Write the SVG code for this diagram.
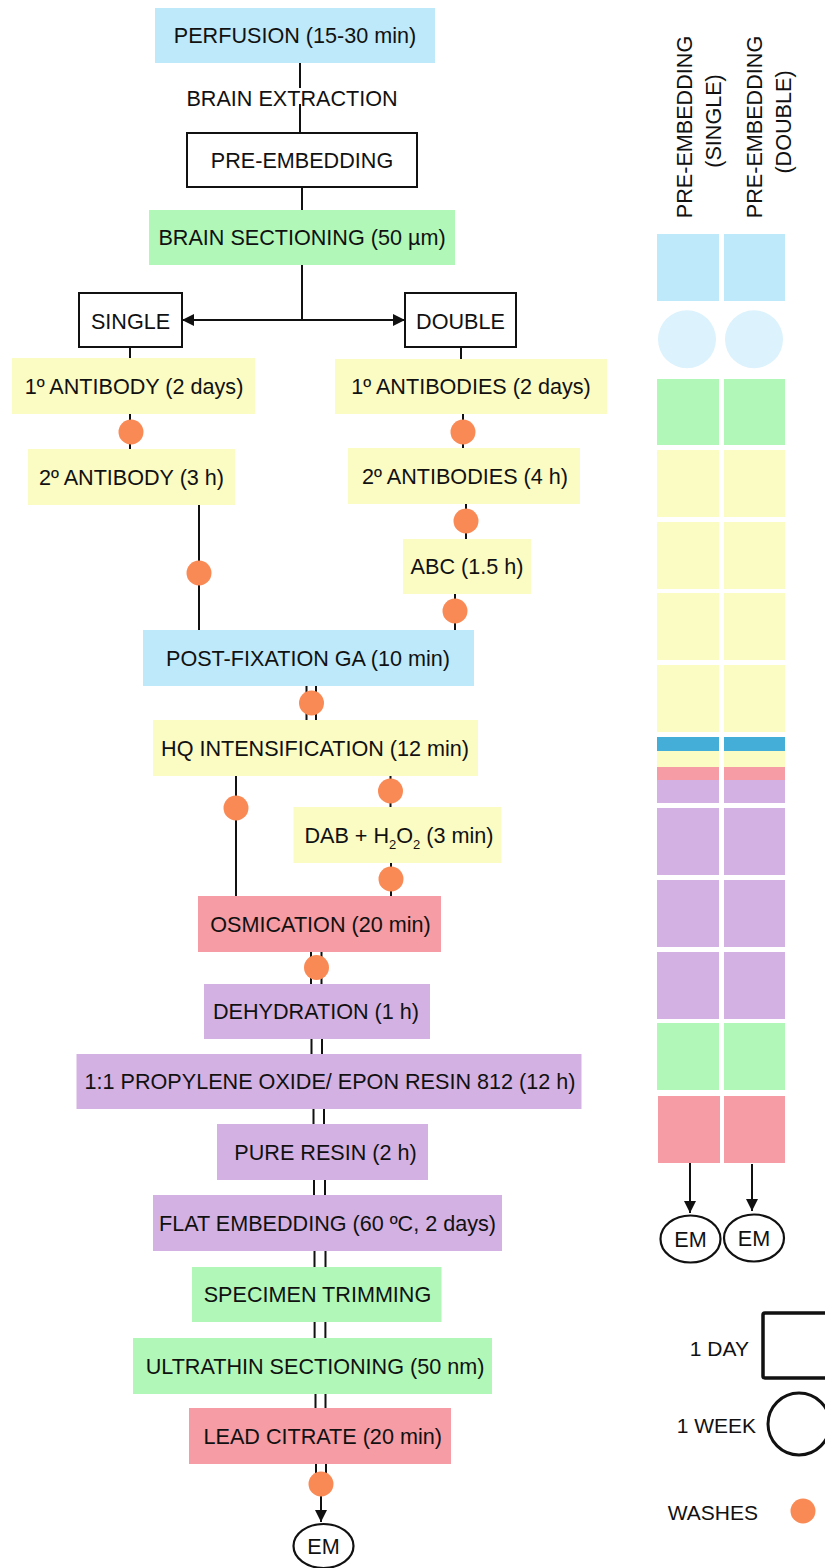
<svg xmlns="http://www.w3.org/2000/svg" width="825" height="1568" viewBox="0 0 825 1568">
<style>
text{font-family:"Liberation Sans",Arial,sans-serif;font-size:21.6px;fill:#111;text-anchor:middle}
.blue{fill:#bde9fa}
.green{fill:#b0f7b8}
.yellow{fill:#fbfbc4}
.pink{fill:#f59ca4}
.purple{fill:#d3b1e2}
.dblue{fill:#45aed8}
.lblue{fill:#dcf2fc}
.wbox{fill:#fff;stroke:#111;stroke-width:2}
.ln{stroke:#111;stroke-width:2;fill:none}
.wash{fill:#fa8a55}
.em{fill:#fff;stroke:#111;stroke-width:2.2}
.leg{text-anchor:end;font-size:21px}
</style>
<defs>
<marker id="arr" viewBox="0 0 12 12" refX="12" refY="6" markerWidth="12" markerHeight="12" markerUnits="userSpaceOnUse" orient="auto-start-reverse">
<path d="M0,0 L12,6 L0,12 z" fill="#111"/>
</marker>
</defs>

<g id="connectors">
<path class="ln" d="M300,63 V88 M300,104 V133"/>
<path class="ln" d="M302,187 V210"/>
<path class="ln" d="M302,265 V320"/>
<line class="ln" x1="302" y1="320" x2="182" y2="320" marker-end="url(#arr)"/>
<line class="ln" x1="302" y1="320" x2="405" y2="320" marker-end="url(#arr)"/>
<path class="ln" d="M130,347 V358 M130,414 V449"/>
<path class="ln" d="M199,505 V630"/>
<path class="ln" d="M461,347 V359 M463,414 V448 M466,504 V539 M455,594 V630"/>
<path class="ln" d="M306.5,686 V720 M316,686 V720"/>
<path class="ln" d="M236,776 V896"/>
<path class="ln" d="M390.5,776 V807 M391,863 V896"/>
<path class="ln" d="M311,952 V984 M321.5,952 V984"/>
<path class="ln" d="M311.5,1039 V1054 M322,1039 V1054"/>
<path class="ln" d="M313.5,1109 V1124 M324,1109 V1124"/>
<path class="ln" d="M314,1180 V1195 M325,1180 V1195"/>
<path class="ln" d="M314.5,1251 V1267 M325.5,1251 V1267"/>
<path class="ln" d="M314.6,1322 V1338 M325.4,1322 V1338"/>
<path class="ln" d="M315.5,1394 V1408 M325.5,1394 V1408"/>
<path class="ln" d="M316,1464 V1484 M326,1464 V1484"/>
<line class="ln" x1="321" y1="1484" x2="321" y2="1522" marker-end="url(#arr)"/>
<line class="ln" x1="690" y1="1163" x2="690" y2="1213" marker-end="url(#arr)"/>
<line class="ln" x1="752" y1="1164" x2="752" y2="1211" marker-end="url(#arr)"/>
</g>

<g id="washes">
<circle class="wash" cx="131" cy="432" r="12.5"/>
<circle class="wash" cx="199" cy="573" r="12.5"/>
<circle class="wash" cx="463" cy="432" r="12.5"/>
<circle class="wash" cx="466" cy="521" r="12.5"/>
<circle class="wash" cx="455" cy="611" r="12.5"/>
<circle class="wash" cx="311.5" cy="703" r="12.5"/>
<circle class="wash" cx="236" cy="808" r="12.5"/>
<circle class="wash" cx="390.5" cy="791" r="12.5"/>
<circle class="wash" cx="391" cy="879" r="12.5"/>
<circle class="wash" cx="316.5" cy="967.5" r="12.5"/>
<circle class="wash" cx="321" cy="1484" r="12.5"/>
</g>

<g id="perfusion"><rect class="blue" x="155" y="8" width="280" height="55"/><text x="295" y="43">PERFUSION (15-30 min)</text></g>
<g id="brain-extraction"><text x="292" y="106">BRAIN EXTRACTION</text></g>
<g id="pre-embedding"><rect class="wbox" x="187" y="133" width="230" height="54"/><text x="302" y="167.5">PRE-EMBEDDING</text></g>
<g id="brain-sectioning"><rect class="green" x="149" y="210" width="306" height="55"/><text x="302" y="245">BRAIN SECTIONING (50 µm)</text></g>
<g id="single"><rect class="wbox" x="79" y="293" width="103" height="54"/><text x="130.5" y="328.5">SINGLE</text></g>
<g id="double"><rect class="wbox" x="405" y="293" width="111" height="54"/><text x="460.5" y="328.5">DOUBLE</text></g>
<g id="ab1-single"><rect class="yellow" x="12" y="358" width="243" height="56"/><text x="134" y="394">1º ANTIBODY (2 days)</text></g>
<g id="ab2-single"><rect class="yellow" x="28" y="449" width="207" height="56"/><text x="131.5" y="485">2º ANTIBODY (3 h)</text></g>
<g id="ab1-double"><rect class="yellow" x="335" y="359" width="272" height="55"/><text x="471" y="394">1º ANTIBODIES (2 days)</text></g>
<g id="ab2-double"><rect class="yellow" x="348" y="448" width="232" height="56"/><text x="465" y="484">2º ANTIBODIES (4 h)</text></g>
<g id="abc"><rect class="yellow" x="403" y="539" width="128" height="55"/><text x="467" y="574">ABC (1.5 h)</text></g>
<g id="post-fixation"><rect class="blue" x="143" y="630" width="331" height="56"/><text x="308" y="666">POST-FIXATION GA (10 min)</text></g>
<g id="hq"><rect class="yellow" x="153" y="720" width="325" height="56"/><text x="315" y="755.5">HQ INTENSIFICATION (12 min)</text></g>
<g id="dab"><rect class="yellow" x="293.5" y="807" width="208" height="56"/><text x="399" y="842.5">DAB + H<tspan font-size="13" dy="6">2</tspan><tspan dy="-6">O</tspan><tspan font-size="13" dy="6">2</tspan><tspan dy="-6"> (3 min)</tspan></text></g>
<g id="osmication"><rect class="pink" x="198" y="896" width="243" height="56"/><text x="320.5" y="931.5">OSMICATION (20 min)</text></g>
<g id="dehydration"><rect class="purple" x="204" y="984" width="226" height="55"/><text x="316" y="1019">DEHYDRATION (1 h)</text></g>
<g id="propylene"><rect class="purple" x="76.5" y="1054" width="505" height="55"/><text x="330" y="1089">1:1 PROPYLENE OXIDE/ EPON RESIN 812 (12 h)</text></g>
<g id="pure-resin"><rect class="purple" x="217" y="1124" width="211" height="56"/><text x="325.5" y="1159.5">PURE RESIN (2 h)</text></g>
<g id="flat-embedding"><rect class="purple" x="153" y="1195" width="349" height="56"/><text x="327.5" y="1230.5">FLAT EMBEDDING (60 ºC, 2 days)</text></g>
<g id="specimen-trimming"><rect class="green" x="192" y="1267" width="249.5" height="55"/><text x="317.5" y="1302">SPECIMEN TRIMMING</text></g>
<g id="ultrathin"><rect class="green" x="133" y="1338" width="359" height="56"/><text x="315" y="1373.5">ULTRATHIN SECTIONING (50 nm)</text></g>
<g id="lead-citrate"><rect class="pink" x="189" y="1408" width="262" height="56"/><text x="322.7" y="1443.5">LEAD CITRATE (20 min)</text></g>
<g id="em-main"><ellipse class="em" cx="323.5" cy="1546" rx="30" ry="22"/><text x="323.5" y="1553.5">EM</text></g>

<g id="header-single">
<text transform="translate(692,127) rotate(-90)">PRE-EMBEDDING</text>
<text transform="translate(721,121) rotate(-90)">(SINGLE)</text>
</g>
<g id="header-double">
<text transform="translate(762,127) rotate(-90)">PRE-EMBEDDING</text>
<text transform="translate(791,122) rotate(-90)">(DOUBLE)</text>
</g>

<g id="timeline-single">
<rect class="blue" x="657" y="234" width="62" height="67"/>
<circle class="lblue" cx="687" cy="339.3" r="29"/>
<rect class="green" x="657" y="379" width="62" height="66"/>
<rect class="yellow" x="657" y="450" width="62" height="67"/>
<rect class="yellow" x="657" y="522" width="62" height="67"/>
<rect class="yellow" x="657" y="593" width="62" height="67"/>
<rect class="yellow" x="657" y="665" width="62" height="67"/>
<rect class="dblue" x="657" y="737" width="62" height="14"/>
<rect class="yellow" x="657" y="751" width="62" height="16"/>
<rect class="pink" x="657" y="767" width="62" height="13"/>
<rect class="purple" x="657" y="780" width="62" height="23"/>
<rect class="purple" x="657" y="808" width="62" height="67"/>
<rect class="purple" x="657" y="880" width="62" height="67"/>
<rect class="purple" x="657" y="952" width="62" height="67"/>
<rect class="green" x="657" y="1023" width="62" height="67"/>
<rect class="pink" x="658" y="1096" width="62" height="67"/>
</g>
<g id="timeline-double">
<rect class="blue" x="724" y="234" width="61" height="67"/>
<circle class="lblue" cx="754" cy="339.3" r="29"/>
<rect class="green" x="724" y="379" width="61" height="66"/>
<rect class="yellow" x="724" y="450" width="61" height="67"/>
<rect class="yellow" x="724" y="522" width="61" height="67"/>
<rect class="yellow" x="724" y="593" width="61" height="67"/>
<rect class="yellow" x="724" y="665" width="61" height="67"/>
<rect class="dblue" x="724" y="737" width="61" height="14"/>
<rect class="yellow" x="724" y="751" width="61" height="16"/>
<rect class="pink" x="724" y="767" width="61" height="13"/>
<rect class="purple" x="724" y="780" width="61" height="23"/>
<rect class="purple" x="724" y="808" width="61" height="67"/>
<rect class="purple" x="724" y="880" width="61" height="67"/>
<rect class="purple" x="724" y="952" width="61" height="67"/>
<rect class="green" x="724" y="1023" width="61" height="67"/>
<rect class="pink" x="724" y="1096" width="61" height="67"/>
</g>
<g id="em-single"><ellipse class="em" cx="690.5" cy="1239" rx="30" ry="23.5"/><text x="690.5" y="1246.5">EM</text></g>
<g id="em-double"><ellipse class="em" cx="754" cy="1238" rx="30" ry="23.5"/><text x="754" y="1245.5">EM</text></g>

<g id="legend">
<text class="leg" x="749" y="1356">1 DAY</text>
<rect x="763" y="1313" width="72" height="65" rx="2" fill="none" stroke="#111" stroke-width="3.5"/>
<text class="leg" x="756" y="1433">1 WEEK</text>
<circle cx="799" cy="1424" r="31" fill="none" stroke="#111" stroke-width="3"/>
<text class="leg" x="758" y="1520">WASHES</text>
<circle class="wash" cx="803" cy="1511" r="12.5"/>
</g>
</svg>
